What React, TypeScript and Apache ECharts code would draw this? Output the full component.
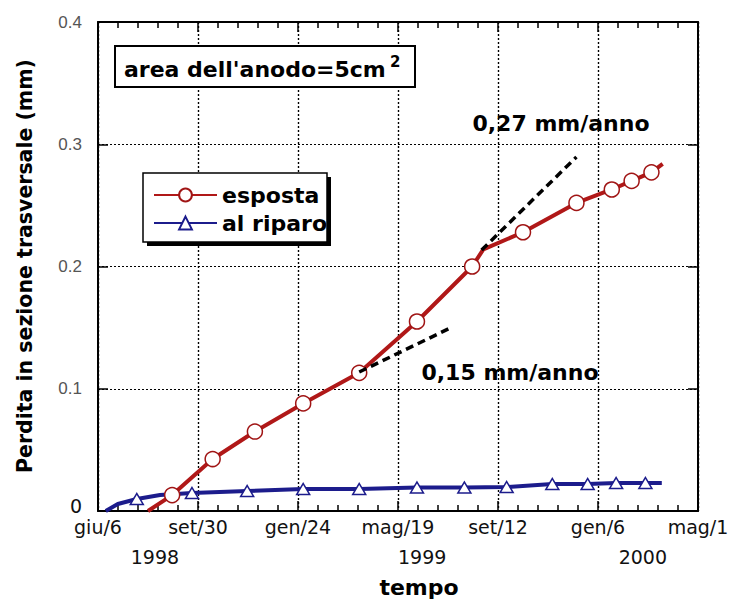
import React, { useEffect, useRef } from 'react';
import * as echarts from 'echarts';

// Time axis: days counted from 6 June 1998, one major tick every 116 days
const dateTicks = ['giu/6', 'set/30', 'gen/24', 'mag/19', 'set/12', 'gen/6', 'mag/1'];
const tickStepDays = 116;
const yearLabels = ['1998', '1999', '2000'];
const yearLabelDays = [66, 376, 632];

// Exposed anode: measured points (markers) and extra points of the traced curve
const exposedSampleDays = [86, 133, 182, 238, 303, 370, 434, 493, 555, 596, 619, 642];
const exposedSampleLoss = [0.013, 0.0425, 0.065, 0.088, 0.113, 0.155, 0.2, 0.228, 0.252, 0.263, 0.27, 0.277];
const exposedTraceDays = [58, 447, 655];
const exposedTraceLoss = [0, 0.214, 0.284];

// Sheltered anode
const shelteredSampleDays = [45, 109, 173, 238, 303, 370, 425, 474, 527, 568, 601, 635];
const shelteredSampleLoss = [0.0098, 0.0147, 0.0164, 0.018, 0.018, 0.0192, 0.0192, 0.0196, 0.0221, 0.0221, 0.0229, 0.0229];
const shelteredTraceDays = [9, 23, 72, 654];
const shelteredTraceLoss = [0, 0.0057, 0.0131, 0.0229];

// Tangent lines for the two corrosion rates
const slowRateDays = [303, 411];
const slowRateLoss = [0.1137, 0.1505];
const fastRateDays = [445, 555];
const fastRateLoss = [0.2135, 0.2896];

const FONT = '"DejaVu Sans", sans-serif';

function mergeCurve(sd: number[], sl: number[], td: number[], tl: number[]) {
  const pts: any[] = sd.map((d, i) => ({ value: [d, sl[i]] }));
  td.forEach((d, i) => pts.push({ value: [d, tl[i]], symbol: 'none' }));
  pts.sort((a, b) => a.value[0] - b.value[0]);
  return pts;
}

const frameLine = () => ({ show: true, onZero: false, lineStyle: { color: '#000', width: 2 } });
const tick = () => ({ show: true, inside: true, length: 10, lineStyle: { color: '#000', width: 1.5 } });
const minor = () => ({ show: true, splitNumber: 5, length: 6, lineStyle: { color: '#000', width: 1.5 } });
const dotted = () => ({ show: true, lineStyle: { color: '#000', width: 1.2, type: [2, 2] } });

export default function App() {
  const ref = useRef<HTMLDivElement>(null);

  useEffect(() => {
    document.body.style.margin = '0';
    const chart = echarts.init(ref.current!, undefined, { renderer: 'svg' });

    const option: any = {
      animation: false,
      grid: { left: 98, top: 22, right: 34, bottom: 90 },
      legend: {
        data: ['esposta', 'al riparo'],
        orient: 'vertical',
        left: 143,
        top: 173,
        padding: [11, 6, 6, 10],
        itemGap: 6,
        itemWidth: 63,
        itemHeight: 16,
        textStyle: { fontFamily: FONT, fontWeight: 'bold', fontSize: 22, color: '#000' },
        z: 10,
      },
      xAxis: [
        {
          type: 'value', min: 0, max: tickStepDays * 6, interval: tickStepDays, position: 'bottom',
          axisLine: frameLine(), axisTick: tick(), minorTick: minor(), splitLine: dotted(),
          axisLabel: {
            margin: 6, color: '#111', fontFamily: FONT, fontSize: 19,
            showMinLabel: true, showMaxLabel: true,
            formatter: (v: number) => dateTicks[Math.round(v / tickStepDays)] ?? '',
          },
        },
        {
          type: 'value', min: 0, max: tickStepDays * 6, interval: tickStepDays, position: 'top',
          axisLine: frameLine(), axisTick: tick(), minorTick: minor(), splitLine: dotted(),
          axisLabel: { show: false },
        },
        {
          type: 'value', min: 0, max: tickStepDays * 6, position: 'bottom',
          axisLine: { show: false }, axisTick: { show: false }, splitLine: { show: false },
          axisLabel: {
            customValues: yearLabelDays, margin: 36, color: '#111', fontFamily: FONT, fontSize: 19,
            formatter: (v: number) => yearLabels[yearLabelDays.indexOf(v)] ?? '',
          },
        },
      ],
      yAxis: [
        {
          type: 'value', min: 0, max: 0.4, interval: 0.1, position: 'left',
          axisLine: frameLine(), axisTick: tick(), splitLine: dotted(),
          axisLabel: {
            margin: 16,
            formatter: (v: number) => (v === 0 ? '{z|0}' : `{g|${v.toFixed(1)}}`),
            rich: {
              g: { color: '#555', fontFamily: 'Liberation Sans', fontSize: 17 },
              z: { color: '#111', fontFamily: 'DejaVu Sans', fontSize: 19, padding: [0, 0, 10, 0] },
            },
          },
        },
        {
          type: 'value', min: 0, max: 0.4, interval: 0.1, position: 'right',
          axisLine: frameLine(), axisTick: tick(), splitLine: dotted(), axisLabel: { show: false },
        },
      ],
      series: [
        {
          name: 'esposta', type: 'line', xAxisIndex: 0, yAxisIndex: 0,
          data: mergeCurve(exposedSampleDays, exposedSampleLoss, exposedTraceDays, exposedTraceLoss),
          symbol: 'circle', symbolSize: 15, showSymbol: true, z: 4,
          lineStyle: { color: '#b01818', width: 4 },
          itemStyle: { color: '#fff', borderColor: '#a01515', borderWidth: 1.5 },
        },
        {
          name: 'al riparo', type: 'line', xAxisIndex: 0, yAxisIndex: 0,
          data: mergeCurve(shelteredSampleDays, shelteredSampleLoss, shelteredTraceDays, shelteredTraceLoss),
          symbol: 'triangle', symbolSize: [13, 11], showSymbol: true, z: 3,
          lineStyle: { color: '#1c1c8c', width: 4 },
          itemStyle: { color: '#fff', borderColor: '#1c1c8c', borderWidth: 1.5 },
        },
        {
          name: 'tasso lento', type: 'line', xAxisIndex: 0, yAxisIndex: 0, silent: true, symbol: 'none', z: 5,
          data: slowRateDays.map((d, i) => [d, slowRateLoss[i]]),
          lineStyle: { color: '#000', width: 3.5, type: [8, 5] },
        },
        {
          name: 'tasso rapido', type: 'line', xAxisIndex: 0, yAxisIndex: 0, silent: true, symbol: 'none', z: 5,
          data: fastRateDays.map((d, i) => [d, fastRateLoss[i]]),
          lineStyle: { color: '#000', width: 3.5, type: [8, 5] },
        },
      ],
      graphic: [
        {
          type: 'text', x: 25, y: 266, rotation: Math.PI / 2, z: 5,
          style: { text: 'Perdita in sezione trasversale (mm)', font: `bold 20.5px ${FONT}`, fill: '#000', align: 'center', verticalAlign: 'middle' },
        },
        {
          type: 'text', x: 419, y: 587, z: 5,
          style: { text: 'tempo', font: `bold 22px ${FONT}`, fill: '#000', align: 'center', verticalAlign: 'middle' },
        },
        {
          type: 'rect', z: 5, shape: { x: 115, y: 46, width: 300, height: 41 },
          style: { fill: '#fff', stroke: '#000', lineWidth: 2 },
        },
        {
          type: 'text', x: 124, y: 69, z: 6,
          style: { text: "area dell'anodo=5cm", font: `bold 22px ${FONT}`, fill: '#000', align: 'left', verticalAlign: 'middle' },
        },
        {
          type: 'text', x: 390, y: 62, z: 6,
          style: { text: '2', font: `bold 15px ${FONT}`, fill: '#000', align: 'left', verticalAlign: 'middle' },
        },
        {
          type: 'rect', z: 5, shape: { x: 147, y: 177, width: 184, height: 69 },
          style: { fill: '#000' },
        },
        {
          type: 'rect', z: 6, shape: { x: 143, y: 173, width: 184, height: 69 },
          style: { fill: '#fff', stroke: '#000', lineWidth: 1.5 },
        },
        {
          type: 'text', x: 561, y: 123, z: 6,
          style: { text: '0,27 mm/anno', font: `bold 22px ${FONT}`, fill: '#000', align: 'center', verticalAlign: 'middle' },
        },
        {
          type: 'text', x: 510, y: 372, z: 6,
          style: { text: '0,15 mm/anno', font: `bold 22px ${FONT}`, fill: '#000', align: 'center', verticalAlign: 'middle' },
        },
      ],
    };

    chart.setOption(option);
    return () => chart.dispose();
  }, []);

  return <div ref={ref} style={{ width: 732, height: 601 }} />;
}
